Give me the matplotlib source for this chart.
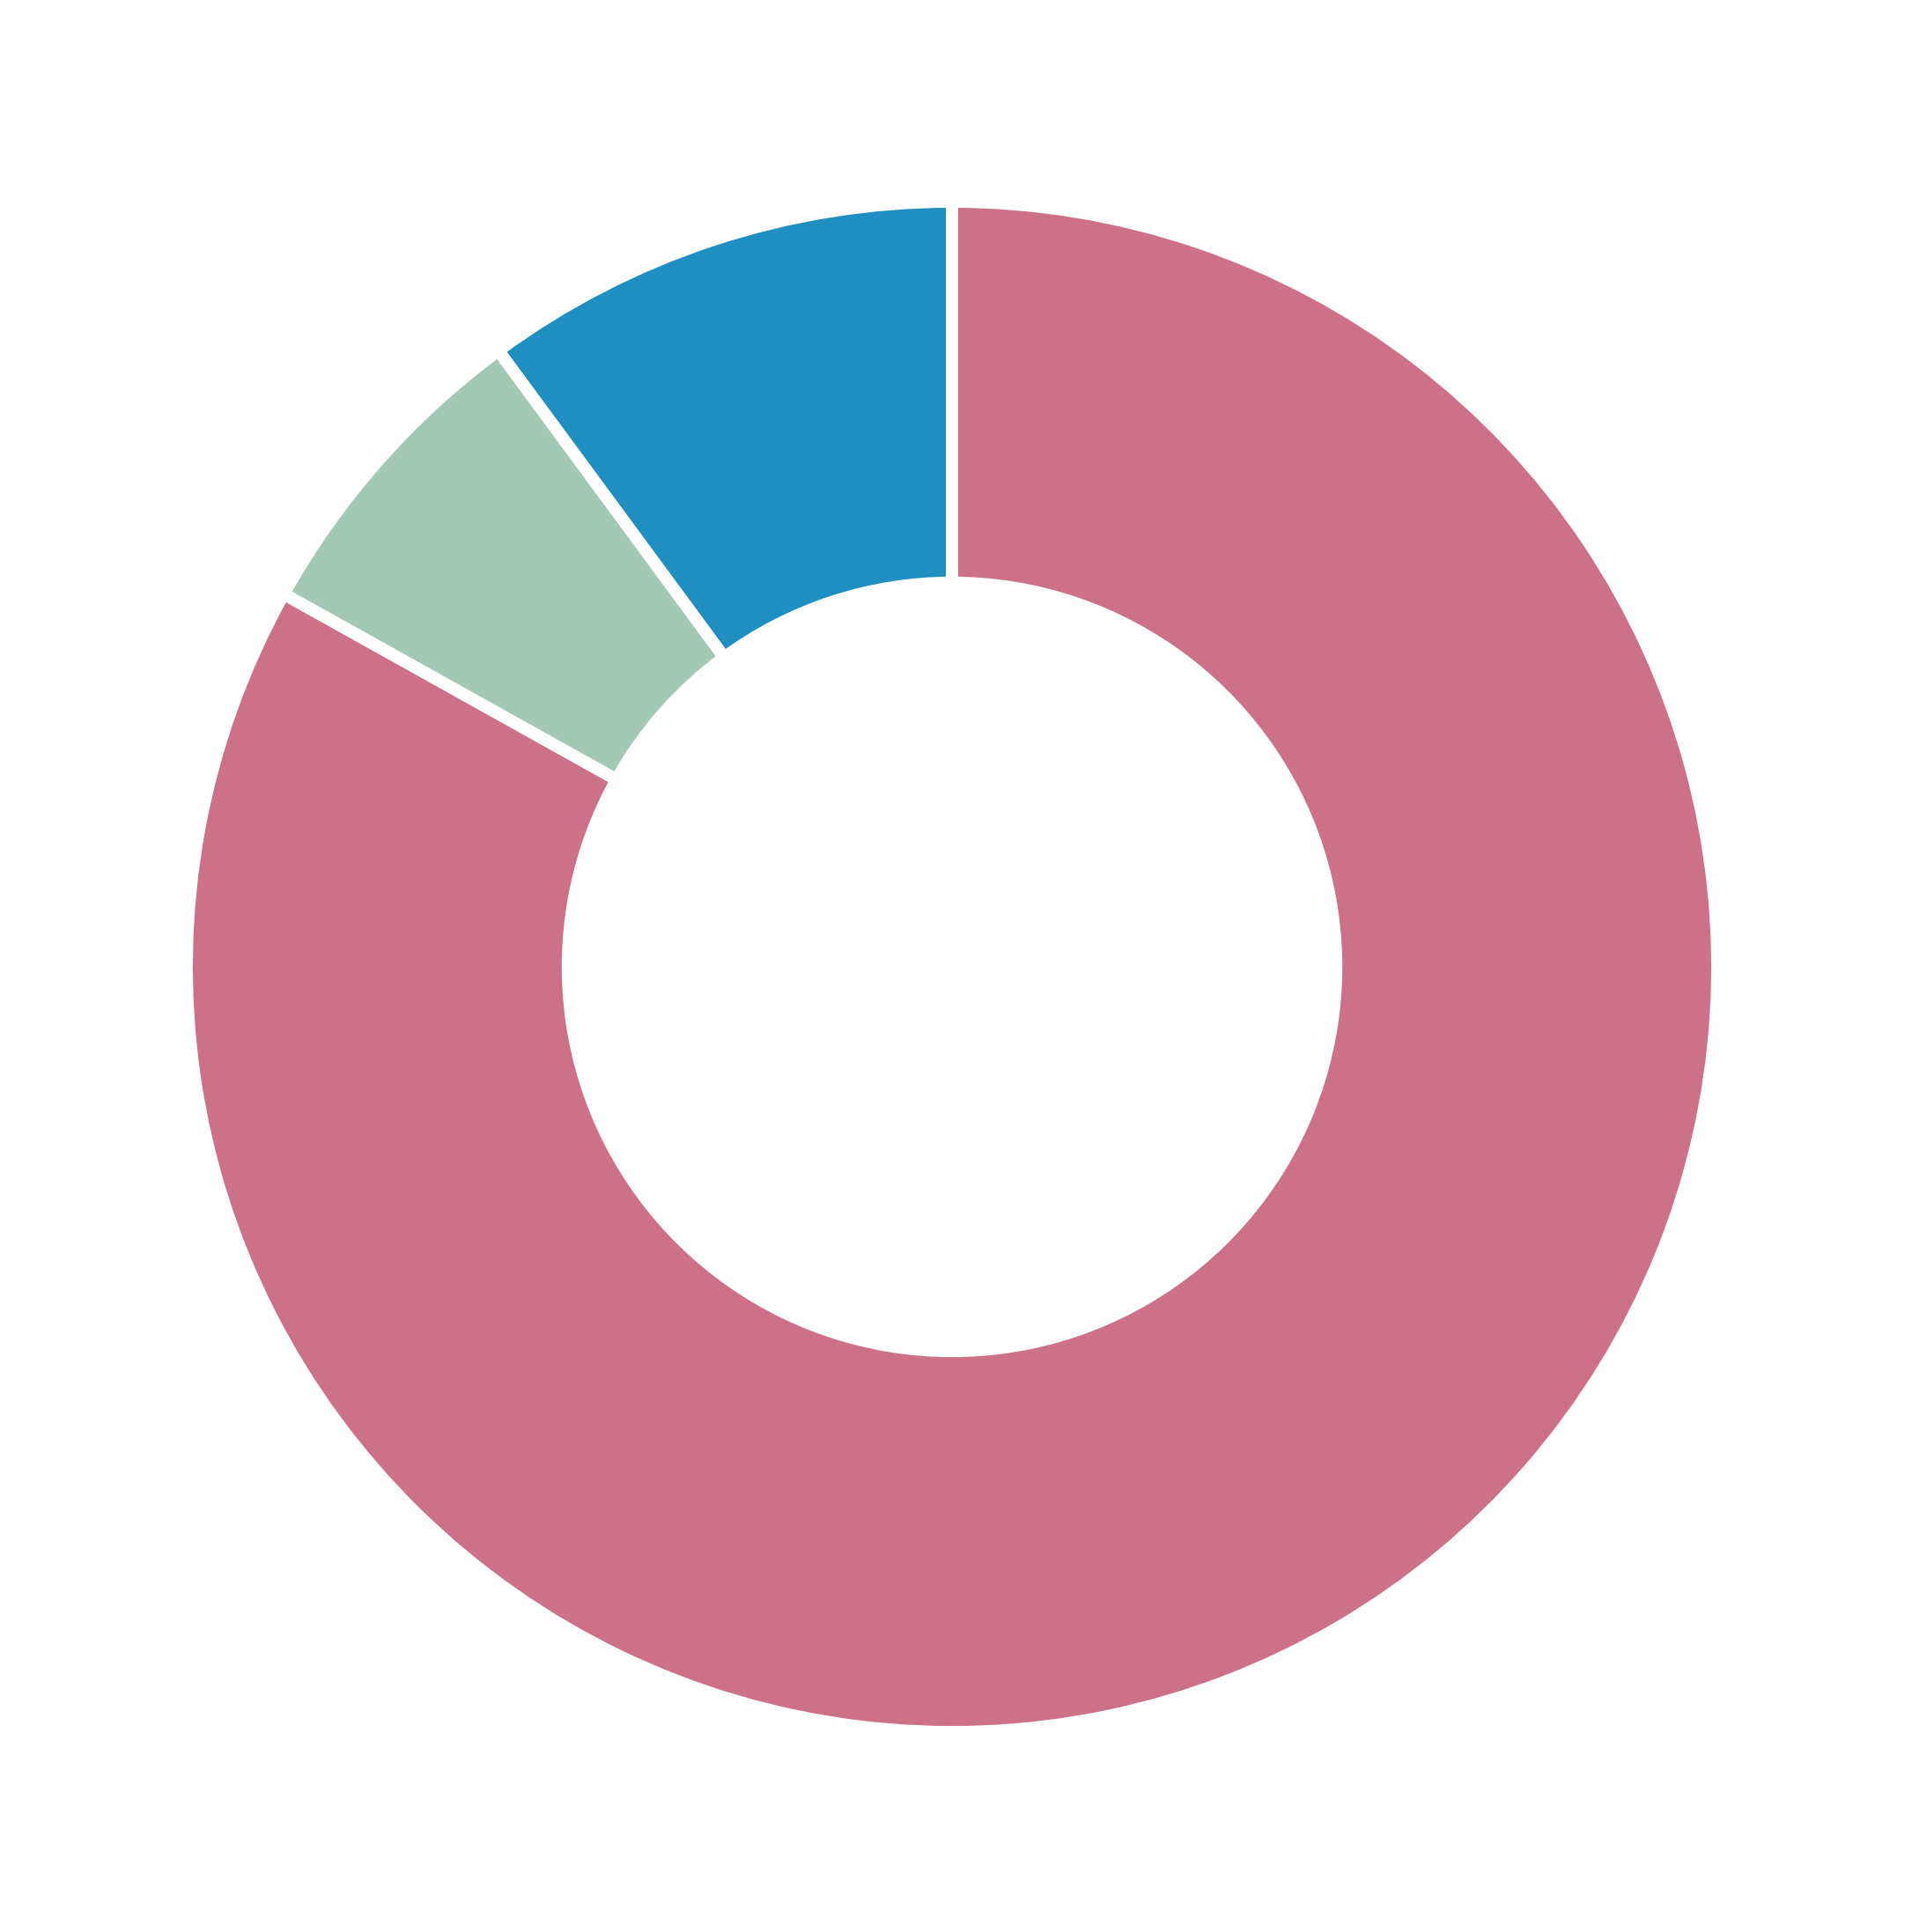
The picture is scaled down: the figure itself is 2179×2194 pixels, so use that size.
import matplotlib
matplotlib.use("Agg")
import matplotlib.pyplot as plt

labels = ["Blue", "Green", "Pink"]
values = [10.1, 6.8, 83.1]
colors = ["#1F8EC1", "#A3C8B3", "#CD7189"]

W, H, DPI = 2179, 2194, 100
fig = plt.figure(figsize=(W / DPI, H / DPI), dpi=DPI)
ax = fig.add_axes([0, 0, 1, 1])

R_PX = 869.0
cx, cy = 1081.0, 1098.0

ax.pie(values, colors=colors, startangle=90, counterclock=True,
       radius=1.0, center=(0, 0), frame=True,
       wedgeprops=dict(width=0.498, edgecolor="white", linewidth=10))
ax.set_xlim(-cx / R_PX, (W - cx) / R_PX)
ax.set_ylim(-(H - cy) / R_PX, cy / R_PX)
ax.set_aspect("auto")
ax.axis("off")

fig.savefig("out.png", dpi=DPI, facecolor="white")
